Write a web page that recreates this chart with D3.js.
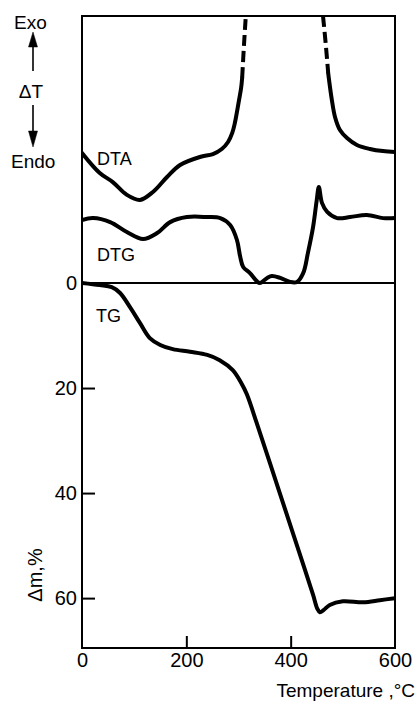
<!DOCTYPE html>
<html>
<head>
<meta charset="utf-8">
<script src="https://cdn.jsdelivr.net/npm/d3@7"></script>
<style>
  html, body { margin: 0; padding: 0; background: #fff; }
  svg { display: block; }
  text { font-family: "Liberation Sans", "DejaVu Sans", sans-serif; fill: #000; }
</style>
</head>
<body>
<svg id="chart" width="417" height="706"></svg>
<script>
// ---- Data ----
// Temperature axis, °C
const xTicks = [0, 200, 400, 600];
// TG: mass loss Δm, %
const tgTicks = [0, 20, 40, 60];
const tgT = [0, 34, 57, 73, 92, 111, 130, 150, 174, 207, 240, 264, 289, 305, 316, 335, 360, 393, 424, 443, 451, 456, 463, 475, 500, 539, 571, 600];
const tgV = [0, 0.4, 0.8, 1.9, 4.6, 7.6, 10.5, 11.8, 12.6, 13.1, 13.7, 14.7, 16.6, 19.0, 21.2, 26.7, 34.2, 44.2, 53.6, 59.4, 62.0, 62.7, 62.3, 61.3, 60.6, 60.8, 60.4, 60.0];
// DTG (arbitrary units, 0 = baseline)
const dtgT = [0, 21, 54, 86, 117, 144, 169, 201, 240, 265, 284, 297, 303, 309, 322, 335, 341, 355, 364, 380, 399, 412, 424, 433, 443, 450, 454, 460, 470, 489, 514, 546, 577, 600];
const dtgV = [23.6, 24.3, 22.8, 19.1, 16.5, 18.7, 22.8, 24.7, 24.7, 24.3, 21.7, 16.1, 10.1, 6.0, 3.7, 0.7, 0, 1.9, 2.6, 1.9, 0.4, 0.4, 3.7, 11.2, 21.0, 31.1, 36.0, 30.0, 26.6, 24.3, 24.7, 25.5, 24.3, 24.3];
// DTA (arbitrary units); solid parts and dashed (off-scale) peak flanks
const dtaLeftT = [0, 34, 59, 86, 111, 136, 163, 188, 226, 251, 268, 280, 288, 293, 297, 301, 305, 307];
const dtaLeftV = [48.7, 41.2, 37.8, 33.0, 31.1, 34.1, 39.7, 44.2, 47.2, 48.3, 50.2, 52.8, 56.2, 59.9, 64.0, 68.5, 73.0, 76.8];
const dtaPeak1T = [307, 310.5, 314];
const dtaPeak1V = [76.8, 89.1, 100];
const dtaPeak2T = [462, 467, 472];
const dtaPeak2V = [100, 90, 78.5];
const dtaRightT = [472, 479, 485, 494.5, 508, 527, 552, 577, 600];
const dtaRightV = [78.5, 68.5, 62.2, 57.3, 54.3, 51.7, 50.2, 49.4, 49.1];

const svg = d3.select("#chart");
const L = 82, R = 395, T = 16, B = 648, Z = 283;

const x = d3.scaleLinear().domain([0, 600]).range([L, R]);
const yD = d3.scaleLinear().domain([0, 100]).range([Z, T]);   // DTA / DTG
const yTG = d3.scaleLinear().domain([0, 69.5]).range([Z, B]); // TG

const zip = (a, b) => a.map((t, i) => [t, b[i]]);
const lineD = d3.line().x(d => x(d[0])).y(d => yD(d[1])).curve(d3.curveCatmullRom.alpha(0.5));
const lineTG = d3.line().x(d => x(d[0])).y(d => yTG(d[1])).curve(d3.curveCatmullRom.alpha(0.5));

// clip
svg.append("clipPath").attr("id", "clip").append("rect")
  .attr("x", L).attr("y", T).attr("width", R - L).attr("height", B - T);

// axes
const ax = svg.append("g").attr("transform", `translate(0,${B})`)
  .call(d3.axisBottom(x).tickValues(xTicks).tickSize(-12).tickPadding(5).tickFormat(d3.format("d")));
const ay = svg.append("g").attr("transform", `translate(${L},0)`)
  .call(d3.axisLeft(yTG).tickValues(tgTicks).tickSize(-13).tickPadding(5).tickFormat(d3.format("d")));
[ax, ay].forEach(g => {
  g.select(".domain").remove();
  g.selectAll(".tick line").attr("stroke", "#000").attr("stroke-width", 2);
  g.selectAll(".tick text").style("font-size", "20px").attr("fill", "#000");
});
ay.selectAll(".tick").filter(d => d === 0).select("line").remove();
ax.selectAll(".tick").filter(d => d === 0 || d === 600).select("line").remove();

// frame and zero line
svg.append("rect").attr("x", L).attr("y", T).attr("width", R - L).attr("height", B - T)
  .attr("fill", "none").attr("stroke", "#000").attr("stroke-width", 2);
svg.append("line").attr("x1", L).attr("x2", R).attr("y1", yD(0)).attr("y2", yD(0))
  .attr("stroke", "#000").attr("stroke-width", 2);

// curves
const cg = svg.append("g").attr("clip-path", "url(#clip)")
  .attr("fill", "none").attr("stroke", "#000").attr("stroke-width", 4)
  .attr("stroke-linejoin", "round").attr("stroke-linecap", "round");
cg.append("path").attr("d", lineD(zip(dtaLeftT, dtaLeftV)));
cg.append("path").attr("d", lineD(zip(dtaRightT, dtaRightV)));
cg.append("path").attr("d", lineD(zip(dtaPeak1T, dtaPeak1V))).attr("stroke-dasharray", "11,5").attr("stroke-linecap", "butt");
cg.append("path").attr("d", lineD(zip(dtaPeak2T, dtaPeak2V))).attr("stroke-dasharray", "11,5").attr("stroke-linecap", "butt");
cg.append("path").attr("d", lineD(zip(dtgT, dtgV)));
cg.append("path").attr("d", lineTG(zip(tgT, tgV)));

// curve labels
const lab = (t, px, py, fs) => svg.append("text").attr("x", px).attr("y", py).style("font-size", fs + "px").text(t);
lab("DTA", 97, 165, 18);
lab("DTG", 97, 261, 18);
lab("TG", 96, 322, 18);

// Exo / ΔT / Endo legend with arrows
lab("Exo", 14, 29, 19);
svg.append("text").attr("x", 31).attr("y", 98).attr("text-anchor", "middle").style("font-size", "19px").text("ΔT");
lab("Endo", 11, 168, 19);
const ag = svg.append("g").attr("stroke", "#000").attr("fill", "#000");
ag.append("line").attr("x1", 33).attr("x2", 33).attr("y1", 45).attr("y2", 71).attr("stroke-width", 1.6);
ag.append("path").attr("d", "M33,32 L28.5,47 L37.5,47 Z").attr("stroke-width", 0.5);
ag.append("line").attr("x1", 33).attr("x2", 33).attr("y1", 105).attr("y2", 132).attr("stroke-width", 1.6);
ag.append("path").attr("d", "M33,147 L28.5,131 L37.5,131 Z").attr("stroke-width", 0.5);

// axis titles
svg.append("text").attr("transform", "translate(42,575) rotate(-90)").attr("text-anchor", "middle")
  .style("font-size", "20px").text("Δm,%");
svg.append("text").attr("x", 415).attr("y", 697).attr("text-anchor", "end")
  .style("font-size", "19px").text("Temperature ,°C");
</script>
</body>
</html>
